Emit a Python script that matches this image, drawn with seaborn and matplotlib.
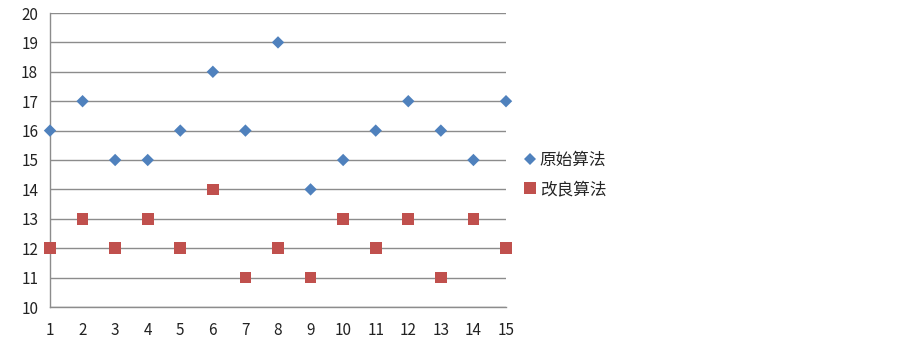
import pandas as pd
import numpy as np
import seaborn as sns
import matplotlib.pyplot as plt

# data
runs = list(range(1, 16))
original = [16, 17, 15, 15, 16, 18, 16, 19, 14, 15, 16, 17, 16, 15, 17]
improved = [12, 13, 12, 13, 12, 14, 11, 12, 11, 13, 12, 13, 11, 13, 12]
series_names = ["原始算法", "改良算法"]

df = pd.DataFrame({
    "x": runs + runs,
    "y": original + improved,
    "算法": [series_names[0]] * len(runs) + [series_names[1]] * len(runs),
})

sns.set_style("white")
plt.rcParams["font.family"] = ["Noto Sans CJK SC", "DejaVu Sans"]

fig = plt.figure(figsize=(9.03, 3.5), dpi=100)
ax = fig.add_axes([50 / 903, 1 - 307 / 350, 456 / 903, 294 / 350])

sns.scatterplot(data=df, x="x", y="y", hue="算法", style="算法", size="算法",
                palette=["#4F81BD", "#C0504D"],
                markers={series_names[0]: "D", series_names[1]: "s"},
                sizes={series_names[0]: 40, series_names[1]: 72},
                linewidth=0, ax=ax, clip_on=False, zorder=3)

ax.set_xlim(1, 15)
ax.set_ylim(10, 20)
ax.set_xticks(runs)
ax.set_yticks(range(10, 21))
ax.set_xlabel("")
ax.set_ylabel("")
ax.grid(axis="y", color="#8c8c8c", linewidth=1)
ax.set_axisbelow(True)
for s in ["top", "right"]:
    ax.spines[s].set_visible(False)
for s in ["left", "bottom"]:
    ax.spines[s].set_color("#8c8c8c")
    ax.spines[s].set_linewidth(1)
ax.tick_params(axis="both", length=5, color="#8c8c8c", labelsize=11,
               labelcolor="#222222", direction="out")
ax.tick_params(axis="x", pad=6)

handles, labels = ax.get_legend_handles_labels()
ax.legend(handles, labels, loc="center left", bbox_to_anchor=(508 / 903, 1 - 175 / 350),
          bbox_transform=fig.transFigure, frameon=False, fontsize=12,
          handlelength=0.8, handletextpad=0.2, labelspacing=0.75)

fig.savefig("out.png", dpi=100)
